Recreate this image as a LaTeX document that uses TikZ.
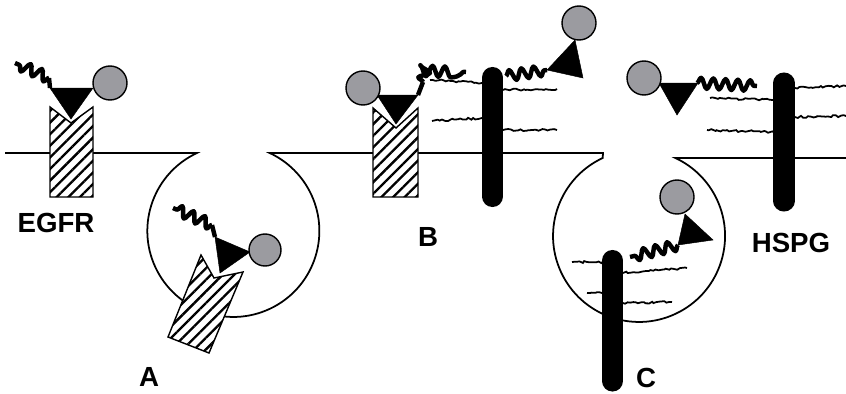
\documentclass[tikz,border=0pt]{standalone}
\usepackage{fontspec}
\setmainfont{Liberation Sans}
\usetikzlibrary{decorations.pathmorphing,patterns.meta}
\definecolor{lig}{RGB}{155,155,160}

\begin{document}
\begin{tikzpicture}[x=0.03cm,y=-0.03cm,
  membrane/.style={line width=1.5pt},
  receptor/.style={draw=black, line width=1.2pt, preaction={fill=white},
    pattern={Lines[angle=45,distance=7pt,line width=2pt]}},
  hspg/.style={line width=18pt, line cap=round},
  chain/.style={line width=1.5pt, decorate,
    decoration={random steps, segment length=2.2pt, amplitude=0.9pt}},
  tail/.style={line width=3.8pt, line join=round, decorate,
    decoration={snake, amplitude=4.6pt, segment length=10.5pt}},
  stub/.style={line width=3.8pt},
  wedge/.style={fill=black},
  factor/.style={draw=black, line width=1.2pt, fill=lig},
  tag/.style={font=\fontsize{23.6}{28}\selectfont\bfseries}]
\useasboundingbox (0,0) rectangle (846,393);
\pgfmathsetseed{7}

% plasma membrane with the two endocytic vesicles
\draw[membrane] (5,153) -- (197,153)
  arc[start angle=245, end angle=-65, radius=86] -- (603,153) -- (602.7,158)
  arc[start angle=245, end angle=-65, radius=86] -- (846,158);

% heparan sulfate chains
\draw[chain] (430,80) -- (482,83);
\draw[chain] (432,121) -- (482,118);
\draw[chain] (503,90) -- (557,89);
\draw[chain] (503,130) -- (557,130);
\draw[chain] (710,98) -- (773,100);
\draw[chain] (707,130) -- (773,132);
\draw[chain] (795,88) -- (846,86);
\draw[chain] (795,117) -- (846,116);
\draw[chain] (572,262) -- (602,262);
\draw[chain] (587,293) -- (602,293);
\draw[chain] (623,273) -- (687,268);
\draw[chain] (623,303) -- (672,302);

% HSPG core proteins
\draw[hspg] (492.5,77.5) -- (492.5,196.5);
\draw[hspg] (784,83) -- (784,201);
\draw[hspg] (612.5,260.5) -- (612.5,381);

% EGF receptors
\draw[receptor] (50,107) -- (71,123) -- (93,107) -- (93,197) -- (50,197) -- cycle;
\draw[receptor] (201,255) -- (214,278) -- (243,272) -- (209,353) -- (168,337) -- cycle;
\draw[receptor] (373,108) -- (396,128) -- (418,108) -- (418,197) -- (373,197) -- cycle;

% ligand tails
\draw[stub] (50,88) -- (49,78);
\draw[tail] (49,78) -- (15,63);
\draw[stub] (215,237) -- (212,225);
\draw[tail] (212,225) -- (173,208);
\draw[stub] (418,95) -- (423,82);
\draw[tail] (423,82) -- (425,70) -- (466,72);
\draw[tail] (506,76) -- (547,70);
\draw[tail] (697,83) -- (757,86);
\draw[tail] (678,245) -- (630,257);

% ligand heads
\draw[wedge] (50,88) -- (93,88) -- (71,119) -- cycle;
\draw[wedge] (215,237) -- (250,252) -- (220,273) -- cycle;
\draw[wedge] (377,95) -- (418,95) -- (396,124) -- cycle;
\draw[wedge] (547,70) -- (575,40) -- (583,78) -- cycle;
\draw[wedge] (659,83) -- (698,83) -- (677,115) -- cycle;
\draw[wedge] (685,214) -- (713,240) -- (678,245) -- cycle;

\draw[factor] (110,83) circle[radius=17];
\draw[factor] (265,250) circle[radius=16];
\draw[factor] (363,88) circle[radius=17];
\draw[factor] (579,23) circle[radius=17];
\draw[factor] (644,78) circle[radius=17];
\draw[factor] (677,197) circle[radius=17];

% labels
\node[tag] (egfr) at (56,223) {EGFR};
\node[tag] (la) at (149,377) {A};
\node[tag] (lb) at (428,237) {B};
\node[tag] (lc) at (646,378) {C};
\node[tag] (hspg) at (791,243) {HSPG};
\end{tikzpicture}
\end{document}
